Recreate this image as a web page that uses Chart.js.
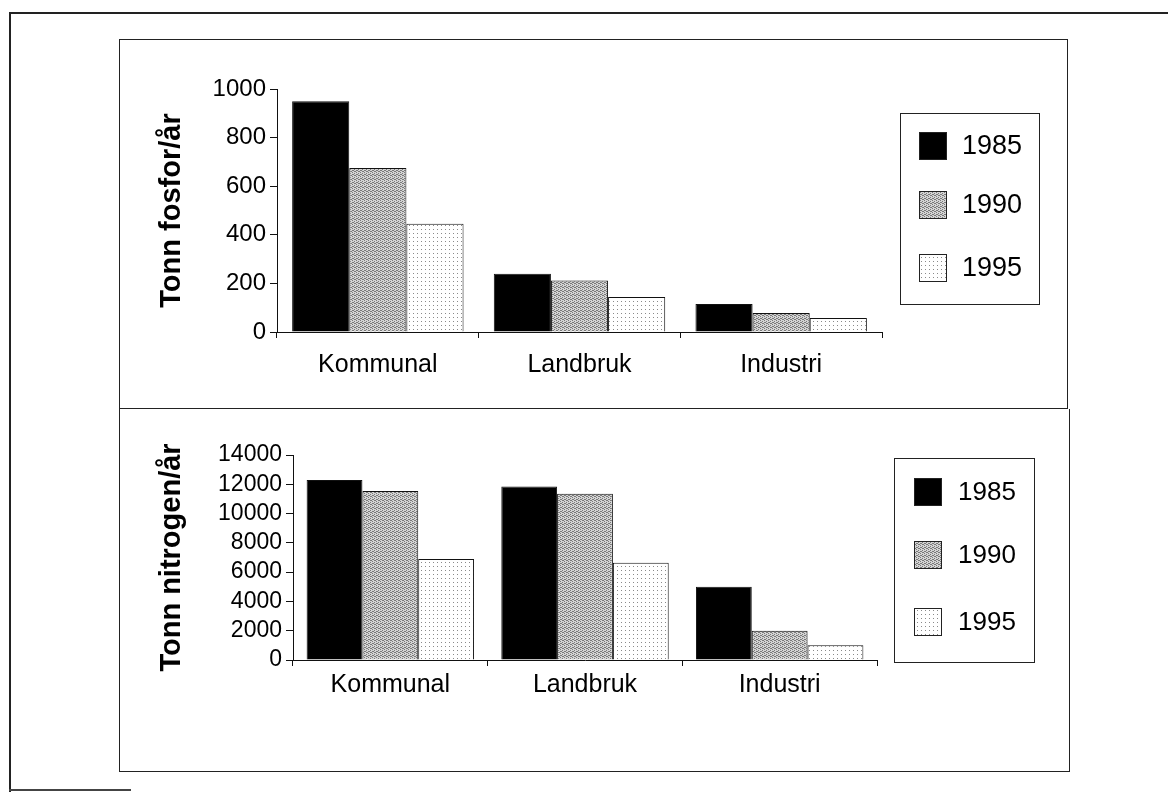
<!DOCTYPE html>
<html>
<head>
<meta charset="utf-8">
<script src="https://cdn.jsdelivr.net/npm/chart.js@4.4.0/dist/chart.umd.min.js"></script>
<style>
  body { margin: 0; background: #fff; width: 1168px; height: 792px; position: relative; overflow: hidden; }
  .frame { position: absolute; left: 9px; top: 12px; width: 1170px; height: 780px; border-top: 2px solid #222; border-left: 2px solid #222; }
  .frame-foot { position: absolute; left: 9px; top: 789px; width: 122px; border-top: 2px solid #444; }
  .panel { position: absolute; border: 1px solid #222; }
  #topPanel { left: 119px; top: 39px; width: 947px; height: 368px; }
  #bottomPanel { left: 119px; top: 409px; width: 949px; height: 362px; border-top: none; }
  canvas { position: absolute; left: 0; top: 0; }
</style>
</head>
<body>
<div class="frame"></div>
<div class="frame-foot"></div>
<div class="panel" id="topPanel"><canvas id="fosforChart" width="947" height="368"></canvas></div>
<div class="panel" id="bottomPanel"><canvas id="nitrogenChart" width="949" height="362"></canvas></div>
<script>
const categories = ["Kommunal", "Landbruk", "Industri"];
const years = ["1985", "1990", "1995"];

const fosfor1985 = [950, 240, 115];
const fosfor1990 = [675, 212, 78];
const fosfor1995 = [445, 144, 58];

const nitrogen1985 = [12300, 11850, 5000];
const nitrogen1990 = [11550, 11350, 2000];
const nitrogen1995 = [6900, 6650, 1000];

const fosforMax = 1000, fosforStep = 200;
const nitrogenMax = 14000, nitrogenStep = 2000;

const FONT = "'Liberation Sans', Arial, sans-serif";

// stippled fills like the scanned original
function makePattern(kind) {
  const c = document.createElement("canvas");
  c.width = 4; c.height = 4;
  const g = c.getContext("2d");
  if (kind === "dense") {
    g.fillStyle = "#d4d4d4";
    g.fillRect(0, 0, 4, 4);
    g.fillStyle = "#7a7a7a";
    [[0, 0], [2, 1], [1, 2], [3, 3], [2, 3], [0, 2]].forEach(p => g.fillRect(p[0], p[1], 1, 1));
  } else {
    g.fillStyle = "#ffffff";
    g.fillRect(0, 0, 4, 4);
    g.fillStyle = "#8a8a8a";
    g.fillRect(1, 1, 1, 1);
  }
  return g.createPattern(c, "repeat");
}

const fills = ["#000000", makePattern("dense"), makePattern("light")];

const boxLegend = {
  id: "boxLegend",
  afterDraw(chart, args, opts) {
    const ctx = chart.ctx;
    const x = chart.chartArea.right + opts.gap;
    ctx.save();
    ctx.strokeStyle = "#222";
    ctx.lineWidth = 1;
    ctx.strokeRect(x + 0.5, opts.top + 0.5, opts.width, opts.height);
    ctx.font = opts.fontSize + "px " + FONT;
    ctx.textBaseline = "middle";
    ctx.textAlign = "left";
    chart.data.datasets.forEach((ds, i) => {
      const cy = opts.rows[i];
      ctx.fillStyle = ds.backgroundColor;
      ctx.fillRect(x + opts.swatchX, cy - opts.swatch / 2, opts.swatch, opts.swatch);
      ctx.strokeStyle = "#222";
      ctx.strokeRect(x + opts.swatchX + 0.5, cy - opts.swatch / 2 + 0.5, opts.swatch - 1, opts.swatch - 1);
      ctx.fillStyle = "#000";
      ctx.fillText(ds.label, x + opts.textX, cy + 1);
    });
    ctx.restore();
  }
};

function buildChart(id, series, cfg) {
  return new Chart(document.getElementById(id).getContext("2d"), {
    type: "bar",
    data: {
      labels: categories,
      datasets: series.map((values, i) => ({
        label: years[i],
        data: values,
        backgroundColor: fills[i],
        borderColor: "#111",
        borderWidth: 1,
        categoryPercentage: cfg.catPct,
        barPercentage: 1.0
      }))
    },
    plugins: [boxLegend],
    options: {
      responsive: false,
      animation: false,
      events: [],
      layout: { padding: cfg.padding },
      plugins: {
        legend: { display: false },
        tooltip: { enabled: false },
        boxLegend: cfg.legend
      },
      scales: {
        x: {
          afterFit: (s) => { s.height = 60; },
          border: { display: true, color: "#111", width: 1 },
          grid: { offset: true, drawOnChartArea: false, drawTicks: true, tickLength: 6, color: "#111" },
          ticks: { color: "#000", padding: cfg.xPad, font: { family: FONT, size: 25 } }
        },
        y: {
          min: 0,
          max: cfg.max,
          afterFit: (s) => { s.width = cfg.yWidth; },
          border: { display: true, color: "#111", width: 1 },
          grid: { drawOnChartArea: false, drawTicks: true, tickLength: 7, color: "#111" },
          ticks: {
            stepSize: cfg.step,
            autoSkip: false,
            color: "#000",
            padding: 4,
            font: { family: FONT, size: cfg.yFont },
            callback: (v) => String(v)
          },
          title: {
            display: true,
            text: cfg.title,
            color: "#000",
            padding: { top: 10, bottom: 0 },
            font: { family: FONT, size: 29, weight: "bold" }
          }
        }
      }
    }
  });
}

buildChart("fosforChart", [fosfor1985, fosfor1990, fosfor1995], {
  title: "Tonn fosfor/år",
  max: fosforMax,
  step: fosforStep,
  catPct: 0.85,
  yWidth: 132,
  yFont: 24,
  xPad: 12,
  padding: { left: 25, top: 49, right: 185, bottom: 16 },
  legend: { gap: 18, top: 73, width: 139, height: 191, rows: [106, 165, 228], swatch: 28, swatchX: 19, textX: 62, fontSize: 27 }
});

buildChart("nitrogenChart", [nitrogen1985, nitrogen1990, nitrogen1995], {
  title: "Tonn nitrogen/år",
  max: nitrogenMax,
  step: nitrogenStep,
  catPct: 0.86,
  yWidth: 148,
  yFont: 23,
  xPad: 4,
  padding: { left: 25, top: 46, right: 192, bottom: 51 },
  legend: { gap: 17, top: 49, width: 140, height: 204, rows: [83, 146, 213], swatch: 28, swatchX: 20, textX: 64, fontSize: 26 }
});
</script>
</body>
</html>
